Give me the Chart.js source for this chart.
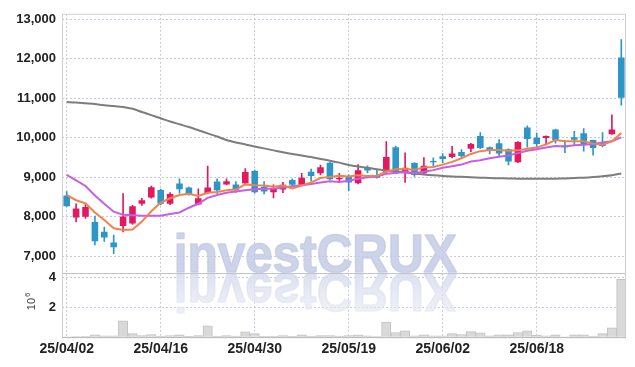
<!DOCTYPE html>
<html>
<head>
<meta charset="utf-8">
<script src="https://cdn.jsdelivr.net/npm/chart.js@4"></script>
<style>
  html, body { margin: 0; padding: 0; background: #fff; }
  #wrap { width: 635px; height: 367px; }
</style>
</head>
<body>
<div id="wrap"><canvas id="chart"></canvas></div>
<script>
// ---- data (KRW, daily) ----
const dates = [
  '25/04/02','25/04/03','25/04/04','25/04/07','25/04/08','25/04/09','25/04/10','25/04/11','25/04/14','25/04/15',
  '25/04/16','25/04/17','25/04/18','25/04/21','25/04/22','25/04/23','25/04/24','25/04/25','25/04/28','25/04/29',
  '25/04/30','25/05/02','25/05/07','25/05/08','25/05/09','25/05/12','25/05/13','25/05/14','25/05/15','25/05/16',
  '25/05/19','25/05/20','25/05/21','25/05/22','25/05/23','25/05/26','25/05/27','25/05/28','25/05/29','25/05/30',
  '25/06/02','25/06/04','25/06/05','25/06/09','25/06/10','25/06/11','25/06/12','25/06/13','25/06/16','25/06/17',
  '25/06/18','25/06/19','25/06/20','25/06/23','25/06/24','25/06/25','25/06/26','25/06/27','25/06/30','25/07/01'
];
const tickDates = ['25/04/02', '25/04/16', '25/04/30', '25/05/19', '25/06/02', '25/06/18'];
const priceTicks = [7000, 8000, 9000, 10000, 11000, 12000, 13000];
const volumeTicks = [0, 2000000, 4000000];

const opens = [
  8540, 7980, 8000, 7870, 7620, 7350, 7770, 7830, 8330, 8490,
  8680, 8330, 8840, 8740, 8310, 8600, 8890, 8820, 8820, 8850,
  9160, 8760, 8620, 8690, 8930, 8810, 9140, 9100, 9370, 8950,
  9020, 8850, 9240, 9060, 9140, 9760, 9140, 9360, 9100, 9410,
  9530, 9510, 9640, 9720, 10040, 9760, 9860, 9710, 9380, 10260,
  10000, 9990, 10210, 9800, 10010, 10110, 9940, 9860, 10090, 12030
];
const highs = [
  8640, 8330, 8310, 8020, 7740, 7540, 8590, 8290, 8470, 8780,
  8700, 8610, 8960, 8750, 8710, 9280, 8960, 8960, 8890, 9220,
  9180, 8890, 8810, 8870, 8960, 9100, 9210, 9310, 9380, 9100,
  9060, 9320, 9290, 9180, 9900, 9790, 9620, 9370, 9500, 9490,
  9600, 9780, 9700, 9860, 10130, 9770, 9950, 9720, 9900, 10300,
  10120, 10050, 10220, 9930, 10160, 10230, 9940, 10130, 10580, 12480
];
const lows = [
  8260, 7870, 7960, 7290, 7380, 7070, 7620, 7810, 8290, 8470,
  8300, 8310, 8600, 8550, 8300, 8580, 8590, 8810, 8620, 8820,
  8600, 8580, 8480, 8610, 8770, 8790, 8910, 9060, 8930, 8890,
  8660, 8830, 9110, 8980, 9120, 9100, 8870, 9020, 9080, 9290,
  9370, 9490, 9470, 9650, 9720, 9590, 9520, 9310, 9370, 9760,
  9760, 9820, 9860, 9620, 9830, 9660, 9560, 9770, 10080, 10820
];
const closes = [
  8270, 8210, 8250, 7380, 7480, 7230, 8010, 8270, 8420, 8750,
  8330, 8580, 8700, 8560, 8470, 8740, 8670, 8900, 8670, 9130,
  8620, 8640, 8720, 8810, 8810, 8990, 9030, 9250, 8950, 8990,
  8870, 9180, 9170, 8990, 9510, 9120, 9240, 9060, 9290, 9380,
  9460, 9600, 9540, 9840, 9740, 9670, 9600, 9400, 9890, 9970,
  9840, 10040, 9940, 9760, 9950, 9840, 9740, 9790, 10210, 11010
];
const volumes = [
  30000, 40000, 60000, 160000, 90000, 90000, 1090000, 240000, 110000, 180000,
  70000, 110000, 150000, 50000, 110000, 750000, 70000, 110000, 70000, 350000,
  240000, 50000, 70000, 110000, 50000, 150000, 70000, 110000, 110000, 70000,
  100000, 150000, 90000, 40000, 1000000, 310000, 420000, 90000, 150000, 90000,
  90000, 240000, 180000, 370000, 290000, 90000, 150000, 150000, 310000, 420000,
  130000, 90000, 150000, 20000, 150000, 150000, 70000, 240000, 620000, 3850000
];
const ma5 = [
  8550, 8420, 8340, 8110, 7920, 7710, 7670, 7680, 7880, 8140,
  8360, 8470, 8550, 8580, 8530, 8610, 8630, 8670, 8690, 8820,
  8800, 8790, 8760, 8790, 8720, 8790, 8870, 8980, 9010, 9040,
  9020, 9050, 9030, 9040, 9140, 9200, 9210, 9190, 9250, 9260,
  9320, 9390, 9480, 9590, 9660, 9690, 9690, 9670, 9680, 9720,
  9750, 9830, 9940, 9910, 9910, 9910, 9850, 9820, 9910, 10120
];
const ma10 = [
  9060, 8920, 8780, 8540, 8330, 8130, 8050, 8040, 8030, 8030,
  8030, 8070, 8110, 8230, 8330, 8480, 8550, 8610, 8640, 8670,
  8700, 8710, 8710, 8740, 8770, 8800, 8830, 8870, 8900, 8880,
  8910, 8960, 9000, 9020, 9090, 9110, 9130, 9110, 9140, 9180,
  9240, 9280, 9320, 9400, 9430, 9480, 9520, 9550, 9610, 9670,
  9710, 9750, 9790, 9780, 9810, 9820, 9840, 9880, 9910, 10010
];
const ma120 = [
  10900, 10890, 10870, 10850, 10820, 10800, 10775, 10730, 10650, 10570,
  10490, 10410, 10340, 10270, 10190, 10110, 10030, 9940, 9880, 9830,
  9780, 9730, 9680, 9630, 9590, 9550, 9510, 9460, 9420, 9370,
  9310, 9270, 9240, 9200, 9170, 9145, 9120, 9095, 9070, 9050,
  9035, 9020, 9010, 9000, 8990, 8980, 8975, 8970, 8965, 8960,
  8960, 8960, 8965, 8970, 8980, 8990, 9005, 9025, 9050, 9095
];

const UP = '#e2195f';
const DOWN = '#2d96c8';
const GRID = '#c6cadc';
const TICK_FONT = { family: '"Liberation Sans", sans-serif', weight: 'bold', size: 13 };

const candleColor = ctx => closes[ctx.dataIndex] >= opens[ctx.dataIndex] ? UP : DOWN;

// watermark, frame, pane separator and the 10^6 unit label
const decor = {
  id: 'decor',
  beforeDatasetsDraw(chart) {
    const { ctx, chartArea: a } = chart;
    const base = chart.scales.yv.top;
    const text = 'investCRUX';
    ctx.save();
    ctx.beginPath();
    ctx.rect(a.left, a.top, a.right - a.left, a.bottom - a.top);
    ctx.clip();
    ctx.font = 'bold 54px "Liberation Sans", sans-serif';
    const sx = 283 / ctx.measureText(text).width;
    const cx = a.left + (a.right - a.left) * 0.449;
    ctx.textAlign = 'center';
    ctx.textBaseline = 'alphabetic';
    ctx.lineJoin = 'round';
    ctx.save();
    ctx.translate(cx, base - 1);
    ctx.scale(sx, 1);
    ctx.fillStyle = 'rgba(196,203,228,0.85)';
    ctx.strokeStyle = 'rgba(196,203,228,0.85)';
    ctx.lineWidth = 1.6;
    ctx.fillText(text, 0, 0);
    ctx.strokeText(text, 0, 0);
    ctx.restore();
    ctx.save();
    ctx.translate(cx, base + 1);
    ctx.scale(sx, -1);
    const g = ctx.createLinearGradient(0, 0, 0, -40);
    g.addColorStop(0, 'rgba(216,220,237,0.85)');
    g.addColorStop(1, 'rgba(230,232,243,0.6)');
    ctx.fillStyle = g;
    ctx.strokeStyle = g;
    ctx.lineWidth = 1.6;
    ctx.fillText(text, 0, 0);
    ctx.strokeText(text, 0, 0);
    ctx.restore();
    ctx.restore();
  },
  afterDraw(chart) {
    const { ctx, chartArea: a } = chart;
    const sep = chart.scales.yv.top;
    ctx.save();
    ctx.strokeStyle = '#d0d0d4';
    ctx.lineWidth = 1;
    ctx.strokeRect(a.left + 0.5, a.top + 0.5, a.right - a.left - 1, a.bottom - a.top);
    ctx.strokeStyle = '#c4c4c8';
    ctx.beginPath();
    ctx.moveTo(a.left, Math.round(sep) + 0.5);
    ctx.lineTo(a.right, Math.round(sep) + 0.5);
    ctx.stroke();
    ctx.strokeStyle = '#bdbdbd';
    ctx.beginPath();
    ctx.moveTo(a.left, Math.round(a.bottom) + 0.5);
    ctx.lineTo(a.right, Math.round(a.bottom) + 0.5);
    ctx.stroke();

    // unit label, rotated
    ctx.translate(32, (sep + a.bottom) / 2 - 1);
    ctx.rotate(-Math.PI / 2);
    ctx.fillStyle = '#444';
    ctx.textBaseline = 'middle';
    ctx.textAlign = 'left';
    ctx.font = '11px "Liberation Sans", sans-serif';
    ctx.fillText('10', -6, 0);
    const w = ctx.measureText('10').width;
    ctx.font = '8px "Liberation Sans", sans-serif';
    ctx.fillText('6', -6 + w + 1, -4);
    ctx.restore();
  }
};

new Chart(document.getElementById('chart'), {
  data: {
    labels: dates,
    datasets: [
      { type: 'line', label: 'MA5', data: ma5, yAxisID: 'y', borderColor: '#f0824c', borderWidth: 2, pointRadius: 0, tension: 0, order: 0 },
      { type: 'line', label: 'MA10', data: ma10, yAxisID: 'y', borderColor: '#c75ee6', borderWidth: 2, pointRadius: 0, tension: 0, order: 0 },
      { type: 'line', label: 'MA120', data: ma120, yAxisID: 'y', borderColor: '#7d7d7d', borderWidth: 2, pointRadius: 0, tension: 0.3, order: 0 },
      {
        type: 'bar', label: 'Body', yAxisID: 'y', order: 1, grouped: false,
        data: opens.map((o, i) => [o, closes[i]]),
        backgroundColor: candleColor, borderWidth: 0,
        barPercentage: 0.7, categoryPercentage: 1
      },
      {
        type: 'bar', label: 'Wick', yAxisID: 'y', order: 2, grouped: false,
        data: lows.map((l, i) => [l, highs[i]]),
        backgroundColor: candleColor, borderWidth: 0,
        barThickness: 1
      },
      {
        type: 'bar', label: 'Volume', yAxisID: 'yv', order: 3, grouped: false,
        data: volumes,
        backgroundColor: '#d9d9d9', borderColor: '#c2c2c2', borderWidth: 1,
        barPercentage: 1, categoryPercentage: 1
      }
    ]
  },
  options: {
    responsive: true,
    maintainAspectRatio: false,
    animation: false,
    layout: { padding: { top: 10, right: 9, bottom: 5, left: 0 } },
    plugins: { legend: { display: false }, tooltip: { enabled: false } },
    scales: {
      x: {
        type: 'category',
        offset: true,
        grid: {
          offset: false,
          drawTicks: false,
          color: ctx => tickDates.includes(dates[ctx.index]) ? GRID : 'rgba(0,0,0,0)'
        },
        border: { display: false, dash: [2, 2] },
        ticks: {
          autoSkip: false, maxRotation: 0, padding: 4,
          color: '#222', font: { ...TICK_FONT, size: 14 },
          callback: (v, i) => tickDates.includes(dates[i]) ? dates[i] : ''
        }
      },
      yv: {
        type: 'linear', position: 'left', stack: 'panes', stackWeight: 1,
        min: 0, max: 4260000,
        grid: { color: GRID, drawTicks: false },
        border: { display: false, dash: [2, 2] },
        afterBuildTicks: s => { s.ticks = volumeTicks.map(v => ({ value: v })); },
        ticks: {
          autoSkip: false, padding: 6, color: '#222', font: TICK_FONT,
          callback: v => v === 0 ? '' : String(v / 1e6)
        },
        afterFit: s => { s.width = 62; }
      },
      y: {
        type: 'linear', position: 'left', stack: 'panes', stackWeight: 4.05,
        min: 6576, max: 13132,
        grid: { color: GRID, drawTicks: false },
        border: { display: false, dash: [2, 2] },
        afterBuildTicks: s => { s.ticks = priceTicks.map(v => ({ value: v })); },
        ticks: {
          autoSkip: false, padding: 6, color: '#222', font: TICK_FONT,
          callback: v => v.toLocaleString('en-US')
        },
        afterFit: s => { s.width = 62; }
      }
    }
  },
  plugins: [decor]
});
</script>
</body>
</html>
